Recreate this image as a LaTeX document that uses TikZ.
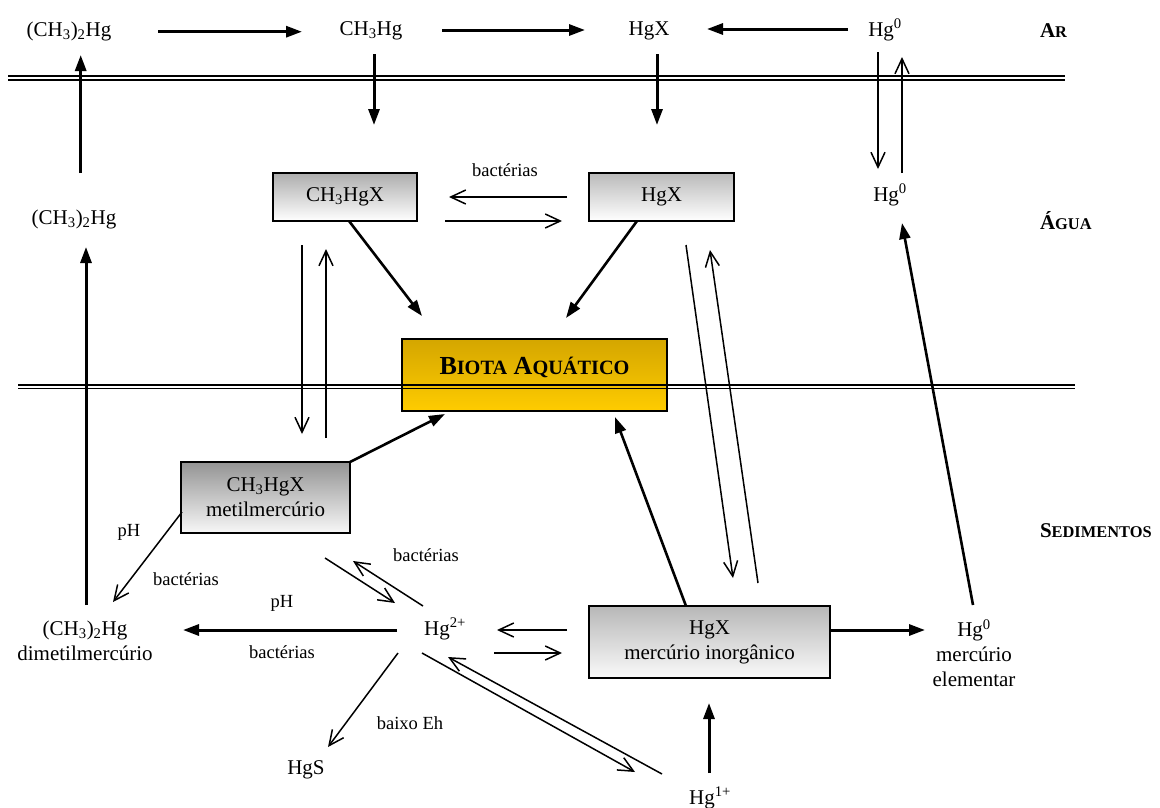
\documentclass[tikz,border=0pt]{standalone}
\usepackage{fontspec}
\setmainfont{Liberation Serif}
\usetikzlibrary{arrows.meta}
\newcommand\smc[1]{{\fontsize{16.4}{19}\selectfont #1}}
\newcommand\bsmc[1]{{\fontsize{20.3}{24}\selectfont #1}}
\begin{document}
\begin{tikzpicture}[x=1pt,y=-1pt,
  every node/.style={inner sep=0pt, outer sep=0pt, font=\fontsize{21}{25}\selectfont},
  lbl/.style={font=\fontsize{18.5}{22}\selectfont},
  zone/.style={anchor=west, font=\fontsize{21}{25}\selectfont\bfseries},
  bigarrow/.style={line width=3pt, -{Triangle[length=16pt,width=11pt]}},
  thinarrow/.style={line width=1.5pt, -{Straight Barb[length=15pt,width=14pt]}},
  sep/.style={line width=#1},
  box/.style={draw, line width=1.6pt, minimum width=#1, align=center},
]
\useasboundingbox (0,0) rectangle (1160,807);

% ---------- boxes ----------
\node[box=265pt, minimum height=72pt, top color={rgb,255:red,212;green,166;blue,0}, bottom color={rgb,255:red,255;green,204;blue,0}] (biota) at (534.5,375) {};
\node[font=\fontsize{26}{30}\selectfont\bfseries] (biotatxt) at (534.5,367) {B\bsmc{IOTA} A\bsmc{QUÁTICO}};
\node[box=144pt, minimum height=48pt, top color=black!32, bottom color=white] (wch3) at (345,197) {CH\textsubscript{3}HgX};
\node[box=145pt, minimum height=48pt, top color=black!27, bottom color=white] (whgx) at (661.5,197) {HgX};
\node[box=169pt, minimum height=71pt, top color=black!42, bottom color=black!3] (sch3) at (265.5,497.5) {CH\textsubscript{3}HgX\\metilmercúrio};
\node[box=241pt, minimum height=72pt, top color=black!28, bottom color=black!2] (shgx) at (709.5,642) {HgX\\mercúrio inorgânico};

% ---------- separator lines ----------
\draw[sep=2pt] (8,75.7) -- (1065,75.7);
\draw[sep=2pt] (8,80.2) -- (1065,80.2);
\draw[sep=1.2pt] (18,385) -- (1075,385);
\draw[sep=1.2pt] (18,388.6) -- (1075,388.6);

% ---------- zone labels ----------
\node[zone] (ar) at (1040,31) {A\smc{R}};
\node[zone] (agua) at (1040,221) {Á\smc{GUA}};
\node[zone] (sed) at (1040,531) {S\smc{EDIMENTOS}};

% ---------- text nodes ----------
\node (adm) at (69,31) {(CH\textsubscript{3})\textsubscript{2}Hg};
\node (amm) at (371,31) {CH\textsubscript{3}Hg};
\node (ahgx) at (649,31) {HgX};
\node (ahg0) at (885,30) {Hg\textsuperscript{0}};
\node (wdm) at (74,219) {(CH\textsubscript{3})\textsubscript{2}Hg};
\node (whg0) at (890,195) {Hg\textsuperscript{0}};
\node[align=center] (sdm) at (85,641) {(CH\textsubscript{3})\textsubscript{2}Hg\\dimetilmercúrio};
\node (hg2) at (445,629) {Hg\textsuperscript{2+}};
\node (hg1) at (710,798) {Hg\textsuperscript{1+}};
\node (hgs) at (306,770) {HgS};
\node[align=center] (shg0) at (974,653) {Hg\textsuperscript{0}\\mercúrio\\elementar};

\node[lbl] (b1) at (505,170) {bactérias};
\node[lbl] (ph1) at (129,532) {pH};
\node[lbl] (b2) at (186,579) {bactérias};
\node[lbl] (ph2) at (282,603) {pH};
\node[lbl] (b3) at (282,652) {bactérias};
\node[lbl] (b4) at (426,555) {bactérias};
\node[lbl] (beh) at (410,723) {baixo Eh};

% ---------- coordinates for free ends ----------
\coordinate (p1a) at (158,31.7);  \coordinate (p1b) at (302,31.7);
\coordinate (p2a) at (442,30);    \coordinate (p2b) at (585,30);
\coordinate (p3a) at (848,29);    \coordinate (p3b) at (707,29);
\coordinate (p4a) at (80.7,173);  \coordinate (p4b) at (80.7,55);
\coordinate (p5a) at (374,54);    \coordinate (p5b) at (374,125);
\coordinate (p6a) at (657,54);    \coordinate (p6b) at (657,125);
\coordinate (p7a) at (349,221);   \coordinate (p7b) at (422,316);
\coordinate (p8a) at (637,221);   \coordinate (p8b) at (566,318);
\coordinate (p9b) at (445,414);
\coordinate (p10a) at (686,606);  \coordinate (p10b) at (615,417);
\coordinate (p11a) at (973,605);  \coordinate (p11b) at (902,223);
\coordinate (p12a) at (86,605);   \coordinate (p12b) at (86,247);
\coordinate (p13a) at (397,630);  \coordinate (p13b) at (183,630);
\coordinate (p14b) at (925,630);
\coordinate (p15a) at (709,773);  \coordinate (p15b) at (709,703);

\coordinate (qa1) at (878,52);   \coordinate (qa2) at (878,169);
\coordinate (qb1) at (902,173);  \coordinate (qb2) at (902,57);
\coordinate (qc1) at (567,197);  \coordinate (qc2) at (449,197);
\coordinate (qd1) at (445,221);  \coordinate (qd2) at (562,221);
\coordinate (qe1) at (302,245);  \coordinate (qe2) at (302,434);
\coordinate (qf1) at (326,438);  \coordinate (qf2) at (326,249);
\coordinate (qg1) at (686,245);  \coordinate (qg2) at (733,578);
\coordinate (qh1) at (758,583);  \coordinate (qh2) at (710,250);
\coordinate (qi1) at (182,512);  \coordinate (qi2) at (113,602);
\coordinate (qj1) at (325,558);  \coordinate (qj2) at (395,603);
\coordinate (qk1) at (423,606);  \coordinate (qk2) at (353,561);
\coordinate (ql1) at (567,630);  \coordinate (ql2) at (497,630);
\coordinate (qm1) at (494,653);  \coordinate (qm2) at (562,653);
\coordinate (qn1) at (398,653);  \coordinate (qn2) at (328,747);
\coordinate (qo1) at (662,774);  \coordinate (qo2) at (448,657);
\coordinate (qp1) at (422,653);  \coordinate (qp2) at (635,772);

% ---------- thick arrows ----------
\draw[bigarrow] (p1a) -- (p1b);
\draw[bigarrow] (p2a) -- (p2b);
\draw[bigarrow] (p3a) -- (p3b);
\draw[bigarrow] (p4a) -- (p4b);
\draw[bigarrow] (p5a) -- (p5b);
\draw[bigarrow] (p6a) -- (p6b);
\draw[bigarrow, line width=2.6pt] (p7a) -- (p7b);
\draw[bigarrow, line width=2.6pt] (p8a) -- (p8b);
\draw[bigarrow, line width=2.6pt] (sch3.north east) -- (p9b);
\draw[bigarrow, line width=2.6pt] (p10a) -- (p10b);
\draw[bigarrow, line width=2.6pt] (p11a) -- (p11b);
\draw[bigarrow] (p12a) -- (p12b);
\draw[bigarrow] (p13a) -- (p13b);
\draw[bigarrow] (shgx.east |- p13a) -- (p14b);
\draw[bigarrow] (p15a) -- (p15b);

% ---------- thin arrows ----------
\draw[thinarrow] (qa1) -- (qa2);
\draw[thinarrow] (qb1) -- (qb2);
\draw[thinarrow] (qc1) -- (qc2);
\draw[thinarrow] (qd1) -- (qd2);
\draw[thinarrow] (qe1) -- (qe2);
\draw[thinarrow] (qf1) -- (qf2);
\draw[thinarrow] (qg1) -- (qg2);
\draw[thinarrow] (qh1) -- (qh2);
\draw[thinarrow] (qi1) -- (qi2);
\draw[thinarrow] (qj1) -- (qj2);
\draw[thinarrow] (qk1) -- (qk2);
\draw[thinarrow] (ql1) -- (ql2);
\draw[thinarrow] (qm1) -- (qm2);
\draw[thinarrow] (qn1) -- (qn2);
\draw[thinarrow] (qo1) -- (qo2);
\draw[thinarrow] (qp1) -- (qp2);
\end{tikzpicture}
\end{document}
